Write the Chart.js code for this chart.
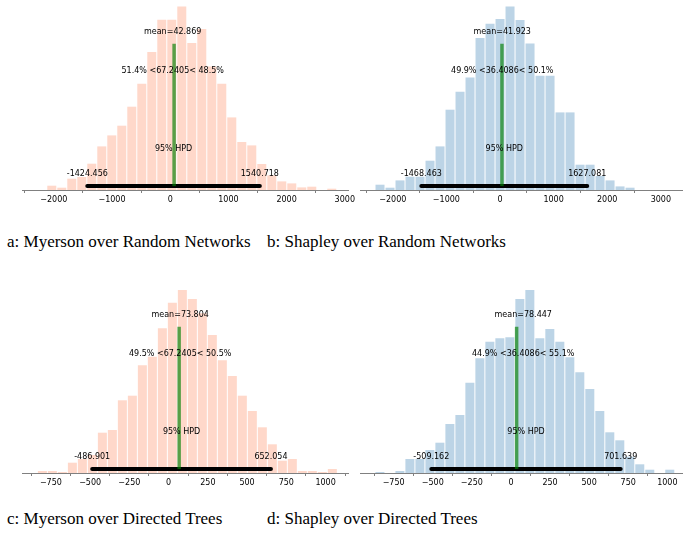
<!DOCTYPE html>
<html>
<head>
<meta charset="utf-8">
<title>Posterior plots</title>
<script src="https://cdn.jsdelivr.net/npm/chart.js@4.4.1/dist/chart.umd.min.js"></script>
<style>
  html, body { margin: 0; padding: 0; background: #fff; overflow: hidden; }
  body { width: 683px; height: 541px; position: relative; }
  canvas { position: absolute; }
  .caption {
    position: absolute;
    font-family: "Liberation Serif", "Times New Roman", serif;
    font-size: 17px;
    line-height: 1;
    color: #000;
    white-space: nowrap;
  }
</style>
</head>
<body>
<canvas id="chartA" width="366" height="217" style="left:2px;top:-5px"></canvas>
<canvas id="chartB" width="363" height="217" style="left:340px;top:-5px"></canvas>
<canvas id="chartC" width="366" height="217" style="left:2px;top:278px"></canvas>
<canvas id="chartD" width="363" height="217" style="left:340px;top:278px"></canvas>

<div class="caption" style="left:7px;top:233px">a: Myerson over Random Networks</div>
<div class="caption" style="left:267px;top:233px">b: Shapley over Random Networks</div>
<div class="caption" style="left:7px;top:510px">c: Myerson over Directed Trees</div>
<div class="caption" style="left:267px;top:510px">d: Shapley over Directed Trees</div>

<script>
// a: Myerson over Random Networks (histogram bar heights)
const binStartA = -2120, binWidthA = 171.8;
const countsA = [4.3, 2.3, 11.3, 13, 26.3, 43.6, 54.6, 64.3, 83.3, 106.3, 138, 170.3, 170.3, 183.6,
                 147, 161, 123.6, 106.3, 72.6, 48, 44.6, 26, 14.6, 8.6, 6.6, 2.6, 3.3, 0, 1.3];
const ticksA = [-2000, -1000, 0, 1000, 2000, 3000];
const meanA = 42.869, refA = 67.2405, refTextA = '51.4% <67.2405< 48.5%';
const hpdA = [-1424.456, 1540.718], hpdTextA = ['-1424.456', '1540.718'];

// b: Shapley over Random Networks
const binStartB = -2332, binWidthB = 186.6;
const countsB = [5.3, 2.3, 9.6, 13.3, 13.3, 29.3, 43.6, 80.3, 98.3, 112.6, 152, 166.3, 171, 183.6,
                 170, 146.6, 114.3, 114.3, 77.6, 77.6, 25.3, 25.3, 14, 9.6, 3.6, 2.3];
const ticksB = [-2000, -1000, 0, 1000, 2000, 3000];
const meanB = 41.923, refB = 36.4086, refTextB = '49.9% <36.4086< 50.1%';
const hpdB = [-1468.463, 1627.081], hpdTextB = ['-1468.463', '1627.081'];

// c: Myerson over Directed Trees
const binStartC = -836, binWidthC = 63.7;
const countsC = [2, 2, 1, 10.3, 14, 18, 40.3, 43, 72.7, 77.3, 107.7, 116.3, 144.7, 170.3, 183,
                 174, 159.7, 138, 112.7, 97, 77.3, 62, 45.7, 28.7, 12.3, 14, 2, 2, 1, 4];
const ticksC = [-750, -500, -250, 0, 250, 500, 750, 1000];
const meanC = 73.804, refC = 67.2405, refTextC = '49.5% <67.2405< 50.5%';
const hpdC = [-486.901, 652.054], hpdTextC = ['-486.901', '652.054'];

// d: Shapley over Directed Trees
const binStartD = -869.6, binWidthD = 63.9;
const countsD = [1, 0, 2, 14, 14, 23, 30.3, 49, 58, 90.3, 114.7, 131.3, 134.7, 135.7, 174, 183,
                 134.7, 144, 131.3, 115.7, 100.7, 84, 62, 40.7, 32.7, 16.3, 8.7, 3.3, 0, 3.3];
const ticksD = [-750, -500, -250, 0, 250, 500, 750, 1000];
const meanD = 78.447, refD = 36.4086, refTextD = '44.9% <36.4086< 55.1%';
const hpdD = [-509.162, 701.639], hpdTextD = ['-509.162', '701.639'];

const salmon = '#FFD8CA';
const blue = '#BCD4E6';
const axisGrey = '#808080';
const plotHeight = 195; // top of the y range, texts and lines are placed relative to it

// draws the text labels at data positions (baseline, centred)
const annotate = {
  id: 'annotate',
  afterDatasetsDraw(chart, args, opts) {
    const {ctx, scales: {x, y}} = chart;
    ctx.save();
    ctx.font = '8px "DejaVu Sans"';
    ctx.fillStyle = '#000';
    ctx.textAlign = 'center';
    ctx.textBaseline = 'alphabetic';
    opts.labels.forEach(l => {
      ctx.fillText(l.text, x.getPixelForValue(l.x), y.getPixelForValue(l.y));
    });
    ctx.restore();
  }
};

function makePanel(id, counts, binStart, binWidth, color, xMin, xMax, ticks, mean, ref, refText, hpd, hpdText) {
  const H = plotHeight;
  const bars = counts.map((c, i) => ({x: binStart + binWidth * (i + 0.5), y: c}));
  const labels = [
    {text: 'mean=' + mean, x: mean, y: H * 0.8},
    {text: refText, x: mean, y: H * 0.6},
    {text: '95% HPD', x: (hpd[0] + hpd[1]) / 2, y: H * 0.2},
    {text: hpdText[0], x: hpd[0], y: H * 0.07},
    {text: hpdText[1], x: hpd[1], y: H * 0.07}
  ];

  new Chart(document.getElementById(id), {
    type: 'bar',
    data: {
      datasets: [
        {
          type: 'line',
          data: [{x: ref, y: H * 0.02}, {x: ref, y: H * 0.75}],
          borderColor: 'rgba(0,128,0,0.65)',
          borderWidth: 3.5,
          pointRadius: 0
        },
        {
          type: 'line',
          data: [{x: hpd[0], y: H * 0.02}, {x: hpd[1], y: H * 0.02}],
          borderColor: '#000',
          borderWidth: 4,
          borderCapStyle: 'round',
          pointRadius: 0
        },
        {
          type: 'bar',
          data: bars,
          backgroundColor: color,
          borderWidth: 0,
          barPercentage: 0.9,
          categoryPercentage: 1
        }
      ]
    },
    options: {
      responsive: false,
      animation: false,
      devicePixelRatio: 1,
      layout: {padding: {left: 20, right: 20, top: 0, bottom: 0}},
      plugins: {
        legend: {display: false},
        tooltip: {enabled: false},
        annotate: {labels: labels}
      },
      scales: {
        x: {
          type: 'linear',
          min: xMin,
          max: xMax,
          offset: false,
          afterBuildTicks: s => { s.ticks = ticks.map(v => ({value: v})); },
          afterFit: s => { s.height = 22; },
          grid: {drawOnChartArea: false, drawTicks: true, tickLength: 3, tickColor: axisGrey, color: axisGrey},
          border: {display: true, color: axisGrey, width: 1},
          ticks: {
            padding: 2,
            color: '#000',
            maxRotation: 0,
            autoSkip: false,
            font: {family: 'DejaVu Sans', size: 8},
            callback: v => v < 0 ? '\u2212' + Math.abs(v) : String(v)
          }
        },
        y: {display: false, min: 0, max: H}
      }
    },
    plugins: [annotate]
  });
}

makePanel('chartA', countsA, binStartA, binWidthA, salmon, -2546, 3055, ticksA, meanA, refA, refTextA, hpdA, hpdTextA);
makePanel('chartB', countsB, binStartB, binWidthB, blue, -2612, 3414, ticksB, meanB, refB, refTextB, hpdB, hpdTextB);
makePanel('chartC', countsC, binStartC, binWidthC, salmon, -934, 1143, ticksC, meanC, refC, refTextC, hpdC, hpdTextC);
makePanel('chartD', countsD, binStartD, binWidthD, blue, -965, 1100, ticksD, meanD, refD, refTextD, hpdD, hpdTextD);
</script>
</body>
</html>
